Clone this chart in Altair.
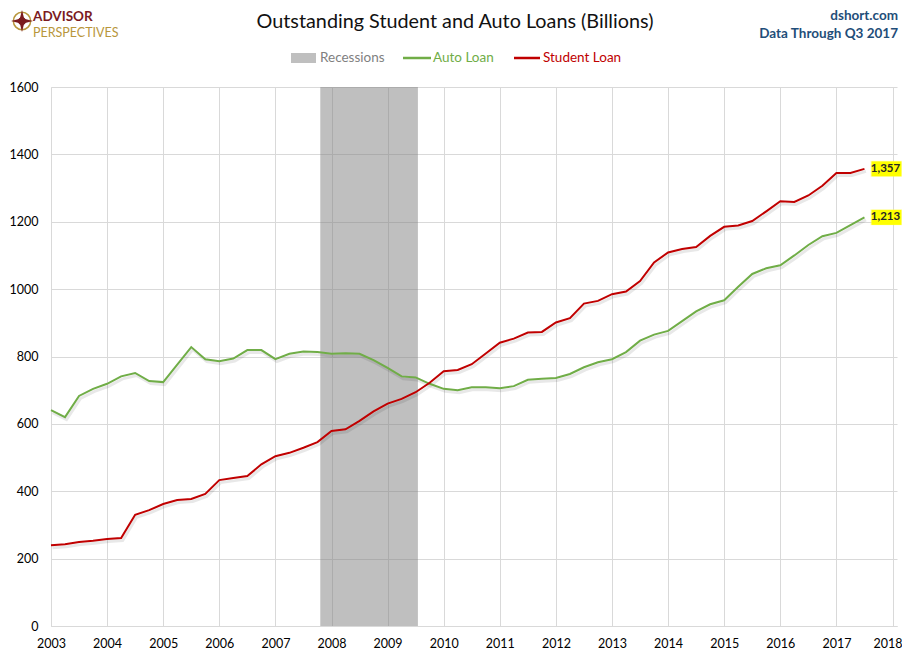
import altair as alt
import pandas as pd

# ---------------- data ----------------
first_year = 2003
student_loan = [240, 243, 249, 253, 258, 261, 330, 344, 362, 374, 377, 392,
                433, 439, 445, 480, 504, 514, 529, 546, 579, 584, 609, 637,
                660, 674, 694, 722, 756, 760, 777, 809, 841, 853, 871, 873,
                901, 914, 957, 965, 985, 993, 1024, 1079, 1109, 1119, 1125, 1158,
                1185, 1189, 1202, 1231, 1261, 1259, 1278, 1307, 1345, 1345, 1357]
auto_loan = [641, 620, 683, 704, 719, 741, 751, 727, 724, 776, 828, 792,
             786, 794, 819, 819, 792, 808, 815, 813, 808, 810, 808, 789,
             766, 741, 738, 719, 704, 700, 709, 709, 706, 712, 731, 734,
             736, 748, 768, 783, 792, 813, 847, 865, 876, 905, 934, 955,
             967, 1007, 1045, 1062, 1071, 1100, 1131, 1157, 1167, 1190, 1213]
recession_start = [2007.8]
recession_end = [2009.54]
end_labels = ["1,357", "1,213"]
year_ticks = list(range(2003, 2019))
value_ticks = [0, 200, 400, 600, 800, 1000, 1200, 1400, 1600]

quarters = [first_year + 0.25 * i for i in range(len(student_loan))]
df = pd.DataFrame({
    "date": quarters * 2,
    "value": student_loan + auto_loan,
    "series": ["Student Loan"] * len(student_loan) + ["Auto Loan"] * len(auto_loan),
})
rec_df = pd.DataFrame({"start": recession_start, "end": recession_end})
lab_df = pd.DataFrame({
    "date": [quarters[-1], quarters[-1]],
    "value": [student_loan[-1], auto_loan[-1]],
    "label": end_labels,
})
dummy = pd.DataFrame({"a": [0]})

FONT = "Lato"
GREEN = "#70ad47"
RED = "#c00000"

x_scale = alt.Scale(domain=[2003, 2018.08], nice=False, zero=False)
y_scale = alt.Scale(domain=[0, 1600], nice=False)

x_axis = alt.Axis(values=year_ticks, format="d", title=None, grid=True,
                  gridColor="#d9d9d9", domainColor="#d9d9d9", ticks=False,
                  labelPadding=11, labelFontSize=12.5, labelColor="#000000",
                  labelFont=FONT, labelFlush=False, labelOverlap=False,
                  labelOffset={"condition": {"test": "datum.value == 2018", "value": -5},
                               "value": 0})
y_axis = alt.Axis(values=value_ticks, format="d", title=None, grid=True,
                  gridColor="#d9d9d9", domainColor="#d9d9d9", ticks=False,
                  labelPadding=13, labelFontSize=12.5, labelColor="#000000",
                  labelFont=FONT, labelFlush=False, labelOverlap=False)

rec = alt.Chart(rec_df).mark_rect(color="#808080", opacity=0.5).encode(
    x=alt.X("start:Q", scale=x_scale, axis=x_axis),
    x2="end:Q",
    y=alt.value(0),
    y2=alt.value(539),
)

base = alt.Chart(df).encode(
    x=alt.X("date:Q", scale=x_scale, axis=x_axis),
    y=alt.Y("value:Q", scale=y_scale, axis=y_axis),
    detail="series:N",
)

shadow = base.mark_line(color="#000000", opacity=0.09, strokeWidth=3,
                        xOffset=1.5, yOffset=2.5)
green = base.transform_filter(alt.datum.series == "Auto Loan").mark_line(
    color=GREEN, strokeWidth=2)
red = base.transform_filter(alt.datum.series == "Student Loan").mark_line(
    color=RED, strokeWidth=2)

RECT_PATH = "M-1,-0.5H1V0.5H-1Z"
lab_base = alt.Chart(lab_df).encode(
    x=alt.X("date:Q", scale=x_scale),
    y=alt.Y("value:Q", scale=y_scale),
)
glow = lab_base.mark_point(shape=RECT_PATH, size=32 * 32, filled=True,
                           color="#ffff66", opacity=0.4, xOffset=22)
box = lab_base.mark_point(shape=RECT_PATH, size=30 * 30, filled=True,
                          color="#ffff00", opacity=1, xOffset=22)
lab_text = lab_base.mark_text(font=FONT, fontSize=11.5, fontWeight="bold",
                              color="#262626", xOffset=21).encode(text="label:N")


def txt(text, x, y, size, color, align="left", weight="normal", font=FONT):
    return alt.Chart(dummy).mark_text(
        text=text, font=font, fontSize=size, color=color, align=align,
        baseline="middle", fontWeight=weight,
    ).encode(x=alt.value(x), y=alt.value(y))


title = txt("Outstanding Student and Auto Loans (Billions)", 404, -65, 19.8,
            "#111111", align="center")
dshort = txt("dshort.com", 847, -71, 13.5, "#1f4e79", align="right", weight="bold")
through = txt("Data Through Q3 2017", 847, -53, 13.5, "#1f4e79", align="right",
              weight="bold")

logo1 = txt("ADVISOR", -18, -70.5, 13.5, "#7b1b1f", weight="bold")
logo2 = txt("PERSPECTIVES", -18, -54.5, 12.5, "#b8963c")
compass_ring = alt.Chart(dummy).mark_point(
    shape="circle", size=300, filled=False, color="#b8963c", strokeWidth=1.5,
    opacity=1).encode(x=alt.value(-29), y=alt.value(-66))
STAR = "M0,-1L0.2,-0.2L1,0L0.2,0.2L0,1L-0.2,0.2L-1,0L-0.2,-0.2Z"
compass_star = alt.Chart(dummy).mark_point(
    shape=STAR, size=480, filled=True, color="#7b1b1f", opacity=1).encode(
    x=alt.value(-29), y=alt.value(-66))
compass_dot = alt.Chart(dummy).mark_point(
    shape="circle", size=60, filled=True, color="#7b1b1f", opacity=1).encode(
    x=alt.value(-29), y=alt.value(-66))

leg_rect = alt.Chart(dummy).mark_rect(color="#bfbfbf").encode(
    x=alt.value(240), x2=alt.value(265), y=alt.value(-34), y2=alt.value(-24))
leg_rec_t = txt("Recessions", 269, -29, 13.5, "#7f7f7f")
leg_green = alt.Chart(dummy).mark_rule(color=GREEN, strokeWidth=2.5).encode(
    x=alt.value(352), x2=alt.value(380), y=alt.value(-29))
leg_green_t = txt("Auto Loan", 382, -29, 13.5, GREEN)
leg_red = alt.Chart(dummy).mark_rule(color=RED, strokeWidth=2.5).encode(
    x=alt.value(463), x2=alt.value(489), y=alt.value(-29))
leg_red_t = txt("Student Loan", 492, -29, 13.5, RED)

chart = alt.layer(
    rec, shadow, green, red, glow, box, lab_text,
    title, dshort, through, logo1, logo2, compass_ring, compass_star, compass_dot,
    leg_rect, leg_rec_t, leg_green, leg_green_t, leg_red, leg_red_t,
).properties(
    width=846,
    height=539,
    autosize=alt.AutoSizeParams(type="none"),
    padding={"left": 43, "top": 79, "right": 5, "bottom": 27},
    background="#ffffff",
).configure_view(stroke=None)

chart.save("out.html", embed_options={"renderer": "svg", "actions": False})
